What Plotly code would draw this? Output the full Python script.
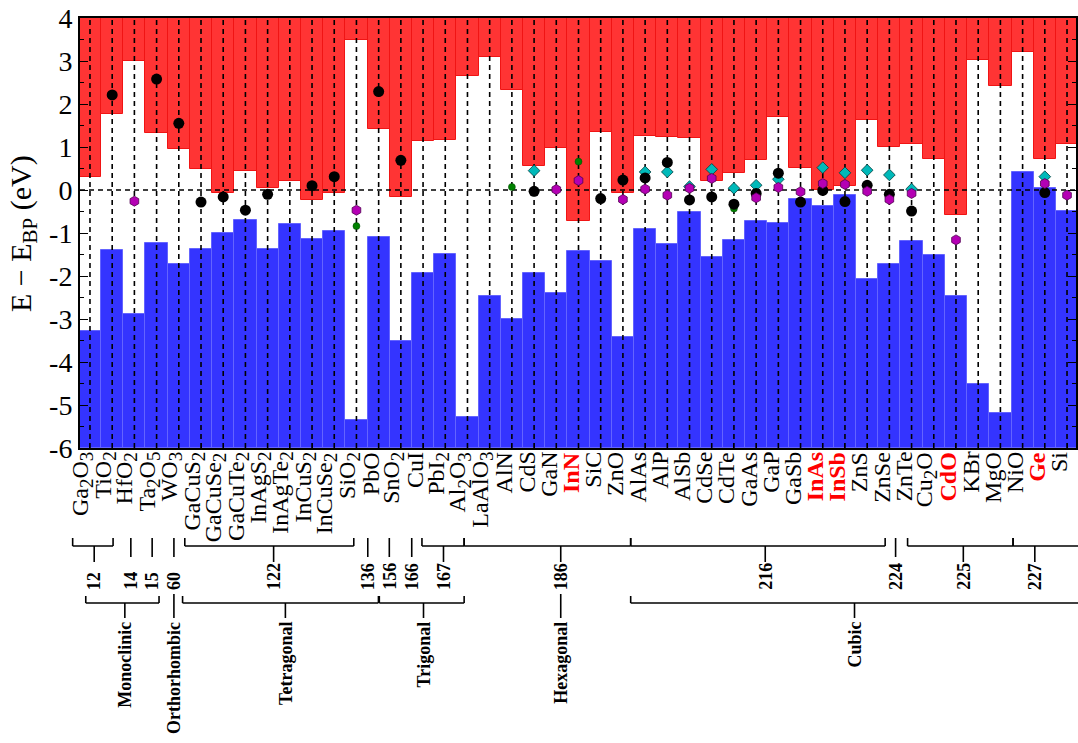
import plotly.graph_objects as go

# ---------------- data ----------------
materials = ["Ga<sub>2</sub>O<sub>3</sub>", "TiO<sub>2</sub>", "HfO<sub>2</sub>", "Ta<sub>2</sub>O<sub>5</sub>", "WO<sub>3</sub>",
             "GaCuS<sub>2</sub>", "GaCuSe<sub>2</sub>", "GaCuTe<sub>2</sub>", "InAgS<sub>2</sub>", "InAgTe<sub>2</sub>",
             "InCuS<sub>2</sub>", "InCuSe<sub>2</sub>", "SiO<sub>2</sub>", "PbO", "SnO<sub>2</sub>", "CuI", "PbI<sub>2</sub>",
             "Al<sub>2</sub>O<sub>3</sub>", "LaAlO<sub>3</sub>", "AlN", "CdS", "GaN", "InN", "SiC", "ZnO", "AlAs", "AlP",
             "AlSb", "CdSe", "CdTe", "GaAs", "GaP", "GaSb", "InAs", "InSb", "ZnS", "ZnSe", "ZnTe", "Cu<sub>2</sub>O",
             "CdO", "KBr", "MgO", "NiO", "Ge", "Si"]
highlighted = ["InN", "InAs", "InSb", "CdO", "Ge"]

cbm = [0.31, 1.76, 2.99, 1.33, 0.95, 0.48, -0.06, 0.45, 0.04, 0.20, -0.23, -0.06, 3.50, 1.43, -0.16, 1.15, 1.17,
       2.65, 3.09, 2.32, 0.56, 0.98, -0.72, 1.34, -0.06, 1.25, 1.23, 1.22, 0.21, 0.39, 0.69, 1.69, 0.52, 0.01,
       0.10, 1.62, 0.99, 1.07, 0.71, -0.58, 3.02, 2.42, 3.21, 0.71, 1.07]
vbm = [-3.29, -1.40, -2.88, -1.23, -1.73, -1.38, -1.01, -0.70, -1.37, -0.79, -1.13, -0.96, -5.36, -1.10, -3.52,
       -1.94, -1.49, -5.28, -2.47, -2.99, -1.92, -2.39, -1.41, -1.64, -3.42, -0.90, -1.26, -0.50, -1.56, -1.16,
       -0.72, -0.76, -0.21, -0.37, -0.12, -2.08, -1.71, -1.18, -1.50, -2.47, -4.51, -5.19, 0.42, 0.05, -0.49]

level_black = [None, 2.21, None, 2.58, 1.55, -0.28, -0.16, -0.47, -0.10, None, 0.10, 0.31, None, 2.29, 0.69,
               None, None, None, None, None, -0.03, None, None, -0.20, 0.23, 0.28, 0.64, -0.23, -0.16, -0.33,
               -0.08, 0.39, -0.28, -0.01, -0.27, 0.11, -0.10, -0.49, None, None, None, None, None, -0.06, None]
level_magenta = [None, None, -0.26, None, None, None, None, None, None, None, None, None, -0.47, None, None,
                 None, None, None, None, None, None, 0.01, 0.22, None, -0.22, 0.02, -0.12, 0.04, 0.27, None,
                 -0.18, 0.06, -0.04, 0.15, 0.13, -0.03, -0.22, -0.08, None, -1.16, None, None, None, 0.15, -0.12]
level_cyan = [None, None, None, None, None, None, None, None, None, None, None, None, None, None, None,
              None, None, None, None, None, 0.45, None, None, None, None, 0.42, 0.42, 0.08, 0.48, 0.04,
              0.11, 0.25, None, 0.52, 0.40, 0.46, 0.35, 0.02, None, None, None, None, None, 0.31, None]
level_green = [None, None, None, None, None, None, None, None, None, None, None, None, -0.84, None, None,
               None, None, None, None, 0.07, -0.06, None, 0.66, None, None, None, None, None, None, -0.43,
               None, None, None, None, None, None, None, None, None, None, None, None, None, None, None]

space_groups = ["12", "14", "15", "60", "122", "136", "156", "166", "167", "186", "216", "224", "225", "227"]
crystal_systems = ["Monoclinic", "Orthorhombic", "Tetragonal", "Trigonal", "Hexagonal", "Cubic"]

# ---------------- layout geometry ----------------
W, H = 1078, 743
PL, PR, PT, PB = 80, 1078, 18, 448          # plot area in pixels
X0, DX = 90.0, 22.25                          # pixel of first category, pixel per category
XMIN = (PL - X0) / DX
XMAX = (PR - X0) / DX
n = len(materials)
xs = list(range(n))

def px(xd):      # data x -> paper x
    return (X0 + DX * xd - PL) / (PR - PL)

def py(ypix):    # pixel y -> paper y
    return (PB - ypix) / (PB - PT)

FONT = "Liberation Serif, Times New Roman, serif"

fig = go.Figure()

# conduction band (red, from CBM up to top)
fig.add_trace(go.Bar(x=xs, y=[4 - c for c in cbm], base=cbm, width=1.0,
                     marker=dict(color="rgb(255,52,52)", line=dict(color="rgb(240,20,20)", width=1)),
                     showlegend=False, hoverinfo="skip"))
# valence band (blue, from bottom up to VBM)
fig.add_trace(go.Bar(x=xs, y=[v + 6 for v in vbm], base=[-6] * n, width=1.0,
                     marker=dict(color="rgb(52,52,255)", line=dict(color="rgb(100,100,255)", width=1)),
                     showlegend=False, hoverinfo="skip"))

# dashed vertical guide lines
dx, dy = [], []
for i in xs:
    dx += [i, i, None]
    dy += [-6, 4, None]
fig.add_trace(go.Scatter(x=dx, y=dy, mode="lines", line=dict(color="black", width=1.6, dash="5px,4px"),
                         showlegend=False, hoverinfo="skip"))
# dashed zero line
fig.add_trace(go.Scatter(x=[XMIN, XMAX], y=[0, 0], mode="lines",
                         line=dict(color="black", width=1.6, dash="5px,4px"),
                         showlegend=False, hoverinfo="skip"))

# levels
fig.add_trace(go.Scatter(x=xs, y=level_green, mode="markers",
                         marker=dict(symbol="circle", size=7, color="rgb(0,130,0)",
                                     line=dict(color="rgb(0,70,0)", width=0.5)),
                         showlegend=False))
fig.add_trace(go.Scatter(x=xs, y=level_cyan, mode="markers",
                         marker=dict(symbol="diamond", size=9, color="rgb(0,185,185)",
                                     line=dict(color="rgb(0,60,60)", width=0.8)),
                         showlegend=False))
fig.add_trace(go.Scatter(x=xs, y=level_black, mode="markers",
                         marker=dict(symbol="circle", size=11, color="black"),
                         showlegend=False))
fig.add_trace(go.Scatter(x=xs, y=level_magenta, mode="markers",
                         marker=dict(symbol="hexagon", size=10, color="rgb(180,0,180)",
                                     line=dict(color="rgb(80,0,80)", width=0.8)),
                         showlegend=False))

annotations = []
# material labels (subscripts slightly larger than plotly's default 70%)
for i, m in enumerate(materials):
    plain = m.replace("<sub>", "").replace("</sub>", "")
    hl = plain in highlighted
    txt = m.replace("<sub>", "<sub><span style='font-size:19px'>").replace("</sub>", "</span></sub>")
    annotations.append(dict(
        x=i, xref="x", y=py(450), yref="paper", xshift=-8,
        text=("<b>%s</b>" % txt) if hl else txt, textangle=-90,
        xanchor="center", yanchor="top", showarrow=False,
        font=dict(family=FONT, size=24, color="rgb(255,0,0)" if hl else "black")))

# y-axis title
annotations.append(dict(x=0, xref="paper", xshift=23 - PL, y=py(234), yref="paper",
                        text="E − E<sub>BP</sub> (eV)", textangle=-90, showarrow=False,
                        xanchor="center", yanchor="middle",
                        font=dict(family=FONT, size=30, color="black")))

shapes = []
LINE = dict(color="black", width=1.6)

def hline(x0, x1, y):
    shapes.append(dict(type="line", xref="paper", yref="paper", x0=px(x0), x1=px(x1), y0=py(y), y1=py(y), line=LINE))

def vline(x, y0, y1):
    shapes.append(dict(type="line", xref="paper", yref="paper", x0=px(x), x1=px(x), y0=py(y0), y1=py(y1), line=LINE))

def bracket(x0, x1, xs_, ytop, ybar, ystem):
    vline(x0, ytop, ybar)
    vline(x1, ytop, ybar)
    hline(x0, x1, ybar)
    vline(xs_, ybar, ystem)

# row 1: space groups  (left, right, stem) ; single lines have left=right=None
sg_geom = [(-0.78, 1.04, 0.19), (None, None, 1.84), (None, None, 2.80), (None, None, 3.78),
           (4.27, 11.88, 8.27), (None, None, 12.51), (None, None, 13.48), (None, None, 14.49),
           (14.95, 16.85, 15.92), (16.85, 24.35, 21.20), (24.35, 35.81, 30.41), (None, None, 36.28),
           (36.82, 41.57, 39.33), (41.57, 46.5, 42.55)]
for lab, (a, b, s) in zip(space_groups, sg_geom):
    if a is None:
        vline(s, 538, 557)
    else:
        bracket(a, b, s, 538, 546, 562)
    annotations.append(dict(x=px(s), xref="paper", y=py(592), yref="paper", text="<b>%s</b>" % lab,
                            textangle=-90, xanchor="center", yanchor="bottom", showarrow=False,
                            font=dict(family=FONT, size=18, color="black")))

# row 2: crystal systems
cs_geom = [(-0.19, 3.11, 1.57), (None, None, 3.78), (4.17, 12.99, 8.80), (13.03, 16.85, 15.02),
           (None, None, 21.20), (24.35, 46.5, 34.43)]
for lab, (a, b, s) in zip(crystal_systems, cs_geom):
    if a is None:
        vline(s, 594, 618)
    else:
        bracket(a, b, s, 596, 603, 618)
    annotations.append(dict(x=px(s), xref="paper", y=py(620), yref="paper", text="<b>%s</b>" % lab,
                            textangle=-90, xanchor="center", yanchor="top", showarrow=False,
                            font=dict(family=FONT, size=18, color="black")))

yticks = [-6, -5, -4, -3, -2, -1, 0, 1, 2, 3, 4]
fig.update_layout(
    width=W, height=H,
    margin=dict(l=PL, r=W - PR, t=PT, b=H - PB),
    paper_bgcolor="white", plot_bgcolor="white",
    barmode="overlay", bargap=0,
    showlegend=False,
    annotations=annotations, shapes=shapes,
    xaxis=dict(range=[XMIN, XMAX], showgrid=False, zeroline=False,
               showline=True, linecolor="black", linewidth=2, mirror=True,
               tickmode="array", tickvals=xs, ticks="inside", ticklen=5, tickwidth=1.2,
               tickcolor="black", showticklabels=False),
    yaxis=dict(range=[-6, 4], showgrid=False, zeroline=False,
               showline=True, linecolor="black", linewidth=2, mirror="ticks",
               tickmode="array", tickvals=yticks, ticktext=[str(t) for t in yticks],
               ticks="inside", ticklen=8, tickwidth=1.2, tickcolor="black",
               tickfont=dict(family=FONT, size=28, color="black"),
               minor=dict(dtick=0.5, ticks="inside", ticklen=4, tickwidth=1, tickcolor="black")),
)

fig.write_html("out.html", config={"displayModeBar": False},
               post_script="document.body.style.margin='0px';document.body.style.padding='0px';"
                           "document.body.style.overflow='hidden';")
